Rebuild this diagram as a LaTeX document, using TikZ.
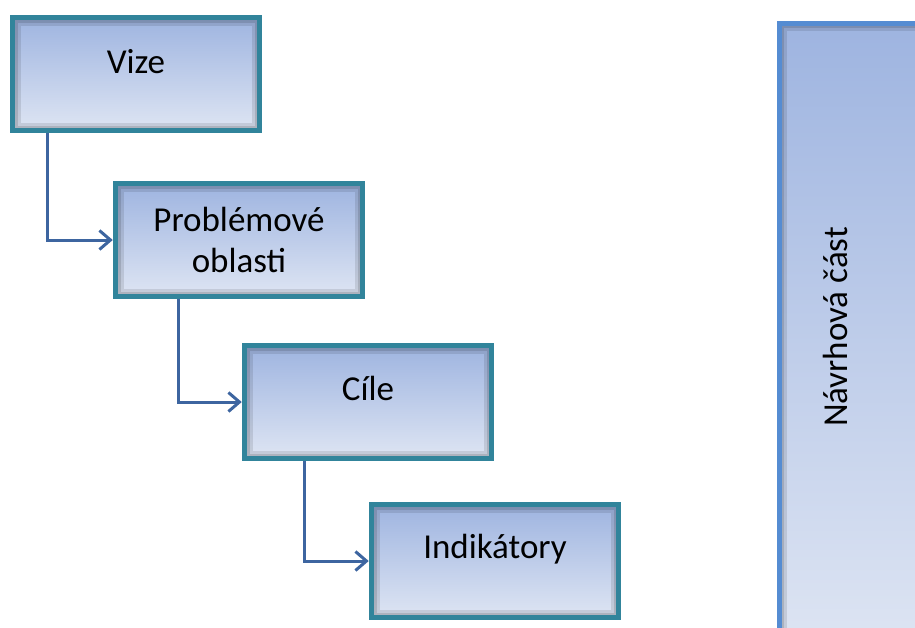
\documentclass[tikz,border=0pt]{standalone}
\usepackage{fontspec}
\setmainfont{Carlito}
\usetikzlibrary{positioning}
\usetikzlibrary{arrows.meta}

\definecolor{boxedge}{RGB}{49,132,155}
\definecolor{boxtop}{RGB}{158,180,224}
\definecolor{boxbot}{RGB}{222,229,243}
\definecolor{linkblue}{RGB}{61,101,160}
\definecolor{partedge}{RGB}{85,140,210}

\tikzset{
  inshadow/.style={path picture={
    \draw[black, opacity=.10, line width=16pt]
      (path picture bounding box.south west) rectangle (path picture bounding box.north east);
    \draw[black, opacity=.12, line width=10pt]
      (path picture bounding box.south west) rectangle (path picture bounding box.north east);}},
  stepbox/.style={draw=boxedge, line width=5.5pt, top color=boxtop, bottom color=boxbot,
    minimum width=247pt, minimum height=113pt, inner sep=0pt, inshadow},
  link/.style={draw=linkblue, line width=3pt, -{Straight Barb[length=11pt,width=19pt,line width=3pt]}},
}

\begin{document}
\begin{tikzpicture}[x=1pt, y=-1pt, font=\fontsize{35}{41}\selectfont]
\useasboundingbox (0,0) rectangle (915,627);
%boxes
\node[stepbox, label={[yshift=12pt]center:Vize}] (vize) at (136,74) {};
\node[stepbox, align=center] (oblasti) at (239,240) {Problémové\\oblasti};
\node[stepbox, label={[yshift=14pt]center:Cíle}] (cile) at (368,402) {};
\node[stepbox, label={[yshift=12pt]center:Indikátory}] (indik) at (495,561) {};
%right column
\node[draw=partedge, line width=5pt, top color=boxtop, bottom color=boxbot, inshadow,
  minimum width=160pt, minimum height=630pt, inner sep=0pt] (navrh) at (859,338) {};
\node[rotate=90] (navrhtext) at (835,327) {Návrhová část};
%connectors
\draw[link] ([xshift=38pt]vize.south west) |- (oblasti.west);
\draw[link] ([xshift=66pt]oblasti.south west) |- (cile.west);
\draw[link] ([xshift=63pt]cile.south west) |- (indik.west);
\end{tikzpicture}
\end{document}
